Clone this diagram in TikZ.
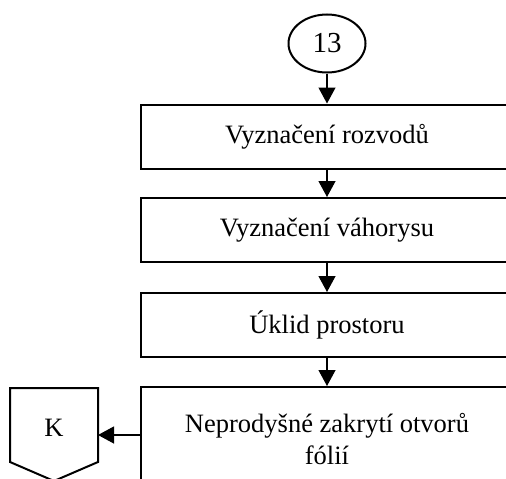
\documentclass[tikz,border=0pt]{standalone}
\usepackage{fontspec}
\setmainfont{Liberation Serif}
\usetikzlibrary{arrows.meta,shapes.geometric}
\begin{document}
\begin{tikzpicture}[x=1pt,y=-1pt,
  txt/.style={font=\fontsize{26.5}{32}\selectfont},
  stepbox/.style={draw,line width=2pt,minimum width=372pt,minimum height=64pt,inner sep=0pt,align=center,txt},
  conn/.style={line width=1.2pt,-{Triangle[length=16pt,width=17pt]}},
  ]
\useasboundingbox (0,0) rectangle (506,479);
\clip (0,0) rectangle (506,479);
% connector from the previous page
\node[draw,ellipse,line width=2pt,minimum width=77pt,minimum height=58pt,inner sep=0pt,font=\fontsize{29}{34}\selectfont] (c13) at (327,43.5) {13};
% process steps
\node[stepbox] (b1) at (327,136.5) {Vyznačení rozvodů};
\node[stepbox] (b2) at (327,230) {Vyznačení váhorysu};
\node[stepbox] (b3) at (327,325) {Úklid prostoru};
\node[stepbox,minimum height=104pt] (b4) at (327,439) {Neprodyšné zakrytí otvorů\\fólií};
% off-page connector K
\draw[line width=2pt] (10,388) -- (98,388) -- (98,462) -- (54,481) -- (10,462) -- cycle;
\node[txt] (k) at (54,428) {K};
\coordinate (kin) at (98,435);
% flow
\draw[conn] (c13) -- (b1);
\draw[conn] (b1) -- (b2);
\draw[conn] (b2) -- (b3);
\draw[conn] (b3) -- (b4);
\draw[conn] (b4.west |- kin) -- (kin);
\end{tikzpicture}
\end{document}
